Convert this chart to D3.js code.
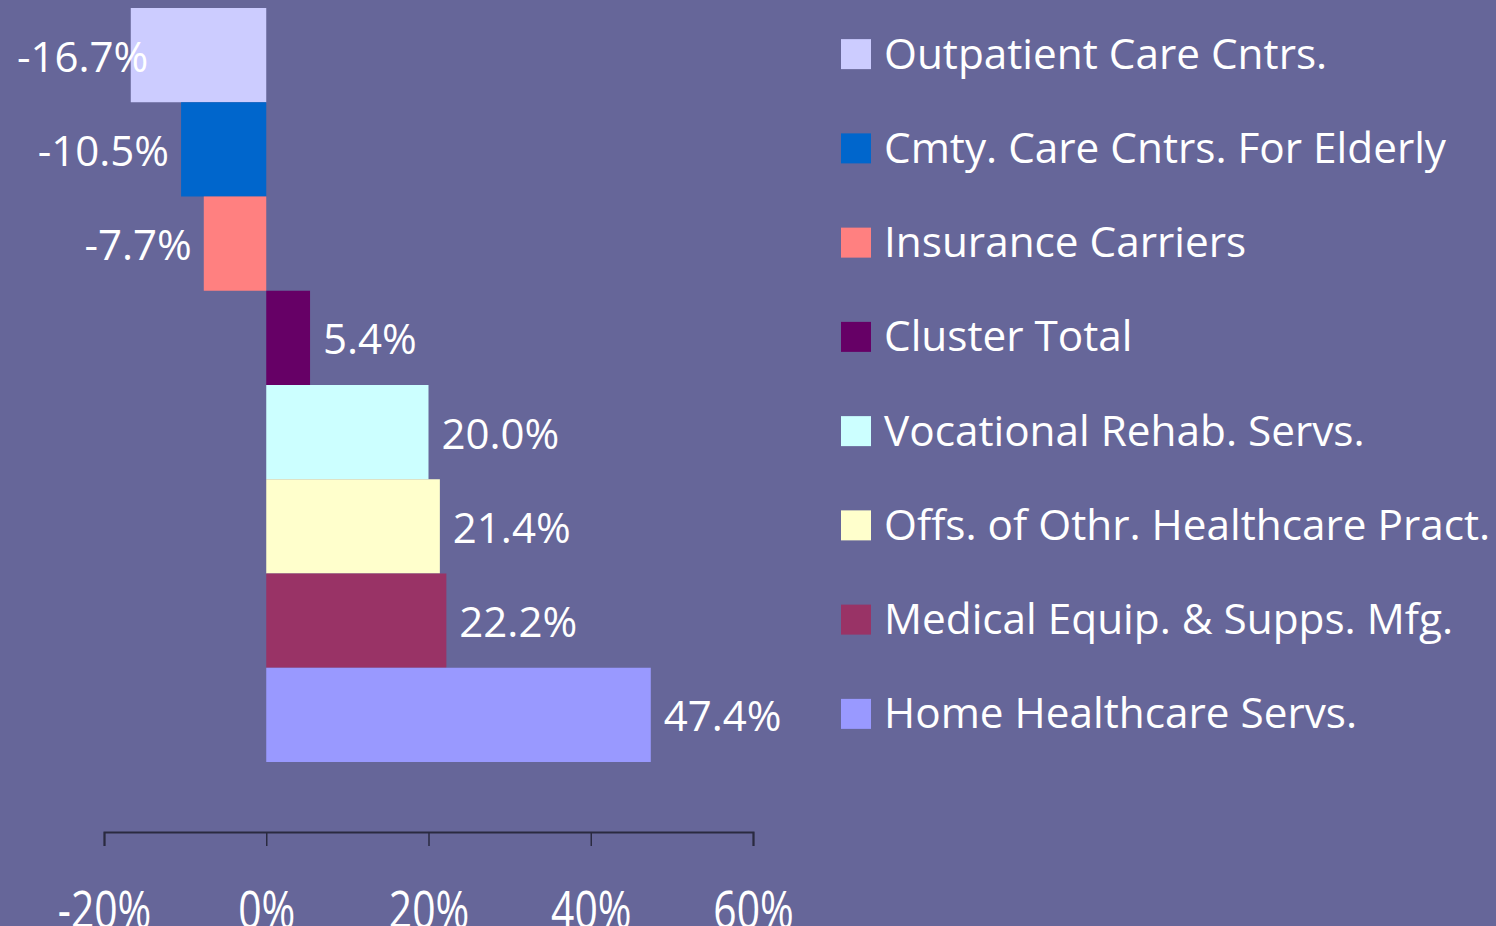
<!DOCTYPE html>
<html>
<head>
<meta charset="utf-8">
<script src="https://cdn.jsdelivr.net/npm/d3@7"></script>
<style>
  html, body { margin: 0; padding: 0; background: #666699; overflow: hidden; }
  text { font-family: "Open Sans", sans-serif; fill: #fff; }
</style>
</head>
<body>
<svg id="chart" width="1496" height="926"></svg>
<script>
var categories = ["Outpatient Care Cntrs.", "Cmty. Care Cntrs. For Elderly", "Insurance Carriers",
  "Cluster Total", "Vocational Rehab. Servs.", "Offs. of Othr. Healthcare Pract.",
  "Medical Equip. & Supps. Mfg.", "Home Healthcare Servs."];
var values = [-16.7, -10.5, -7.7, 5.4, 20.0, 21.4, 22.2, 47.4];
var colors = ["#ccccff", "#0066cc", "#ff8080", "#660066", "#ccffff", "#ffffcc", "#993366", "#9999ff"];
var ticks = [-20, 0, 20, 40, 60];

var svg = d3.select("#chart");

var x = d3.scaleLinear().domain([-20, 60]).range([104, 753]);
var y = d3.scaleBand().domain(categories).range([8, 762]).padding(0);

// bars
svg.selectAll("rect.bar")
  .data(values)
  .enter().append("rect")
  .attr("class", "bar")
  .attr("x", function(d) { return x(Math.min(0, d)); })
  .attr("y", function(d, i) { return y(categories[i]); })
  .attr("width", function(d) { return Math.abs(x(d) - x(0)); })
  .attr("height", y.bandwidth())
  .attr("fill", function(d, i) { return colors[i]; });

// value labels, outside the bar end
var labels = svg.selectAll("text.val")
  .data(values)
  .enter().append("text")
  .attr("class", "val")
  .attr("font-size", 42)
  .attr("dominant-baseline", "central")
  .attr("y", function(d, i) { return y(categories[i]) + y.bandwidth() / 2; })
  .text(function(d) { return d.toFixed(1) + "%"; });

labels.each(function(d) {
  var w = this.getComputedTextLength();
  var xp = d >= 0 ? x(d) + 13 : Math.max(17, x(d) - 12 - w);
  d3.select(this).attr("x", xp);
});

// axis
var axisG = svg.append("g").attr("transform", "translate(0,832)");
axisG.call(d3.axisBottom(x).tickValues(ticks).tickSize(14).tickSizeOuter(14)
  .tickFormat(function(d) { return d + "%"; }));
axisG.select(".domain").attr("stroke", "#2a2a40").attr("stroke-width", 2);
axisG.selectAll(".tick line").attr("stroke", "#2a2a40").attr("stroke-width", 1.5);
axisG.selectAll(".tick text")
  .attr("fill", "#fff")
  .attr("font-family", "Open Sans, sans-serif")
  .attr("font-size", 48)
  .attr("y", 0).attr("dy", 0)
  .attr("transform", "translate(0,96) scale(0.85,1.05)")
  .attr("text-anchor", "middle");

// legend
var rows = svg.append("g").selectAll("g")
  .data(categories)
  .enter().append("g")
  .attr("transform", function(d) { return "translate(841," + (y(d) + y.bandwidth() / 2 - 1) + ")"; });
rows.append("rect")
  .attr("x", 0).attr("y", -15)
  .attr("width", 30).attr("height", 30)
  .attr("fill", function(d, i) { return colors[i]; });
rows.append("text")
  .attr("x", 43)
  .attr("y", -2)
  .attr("font-size", 42.3)
  .attr("dominant-baseline", "central")
  .text(function(d) { return d; });
</script>
</body>
</html>
